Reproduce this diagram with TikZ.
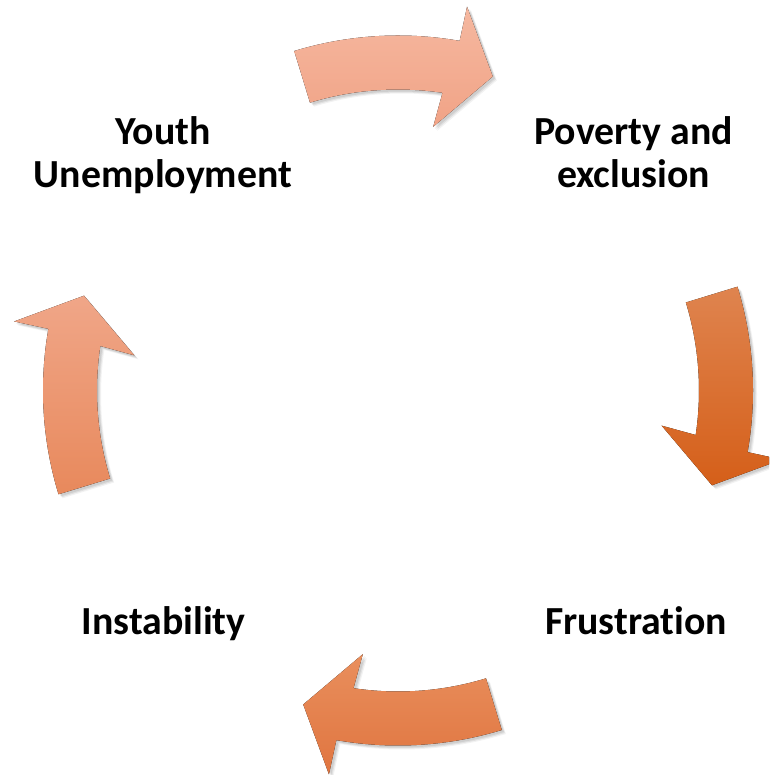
\documentclass[tikz,border=0pt]{standalone}
\usepackage{fontspec}
\setmainfont{Carlito}[Ligatures={NoCommon}]
\usetikzlibrary{calc}
\newcommand\cycpath[1]{(#1:355) arc[start angle=#1, end angle={#1-27}, radius=355pt] -- ({#1-27.2}:390) -- ({#1-33.8}:328) -- ({#1-24.6}:266) -- ({#1-25.5}:301) arc[start angle={#1-25.5}, end angle=#1, radius=301pt] -- cycle}
\newcommand\cycarrow[3]{%
  \foreach \s/\o in {4/0.05,3/0.07,2/0.08}{\fill[black,opacity=\o,xshift=\s pt,yshift=-\s pt] \cycpath{#1};}
  \fill[top color=#2,bottom color=#3] \cycpath{#1};}
\definecolor{atop1}{HTML}{F5B8A0}\definecolor{abot1}{HTML}{F1A386}
\definecolor{atop2}{HTML}{DF844F}\definecolor{abot2}{HTML}{D55F19}
\definecolor{atop3}{HTML}{E98F5D}\definecolor{abot3}{HTML}{E07540}
\definecolor{atop4}{HTML}{F0A688}\definecolor{abot4}{HTML}{E8895C}
\tikzset{lbl/.style={font=\bfseries\fontsize{39.8}{43}\selectfont, align=center, inner sep=0pt, anchor=base}}
\begin{document}
\begin{tikzpicture}[x=1pt,y=1pt]
\clip (0,0) rectangle (769,775);
\fill[white] (0,0) rectangle (769,775);
\begin{scope}[shift={(398,384.5)}]
  \cycarrow{107}{atop1}{abot1}
  \cycarrow{17}{atop2}{abot2}
  \cycarrow{-73}{atop3}{abot3}
  \cycarrow{-163}{atop4}{abot4}
\end{scope}
\node[lbl] (youth) at (163,587) {Youth\\Unemployment};
\node[lbl] (poverty) at (633.5,587) {Poverty and\\exclusion};
\node[lbl] (frus) at (636,140.7) {Frustration};
\node[lbl] (inst) at (163.5,140.7) {Instability};
\end{tikzpicture}
\end{document}
